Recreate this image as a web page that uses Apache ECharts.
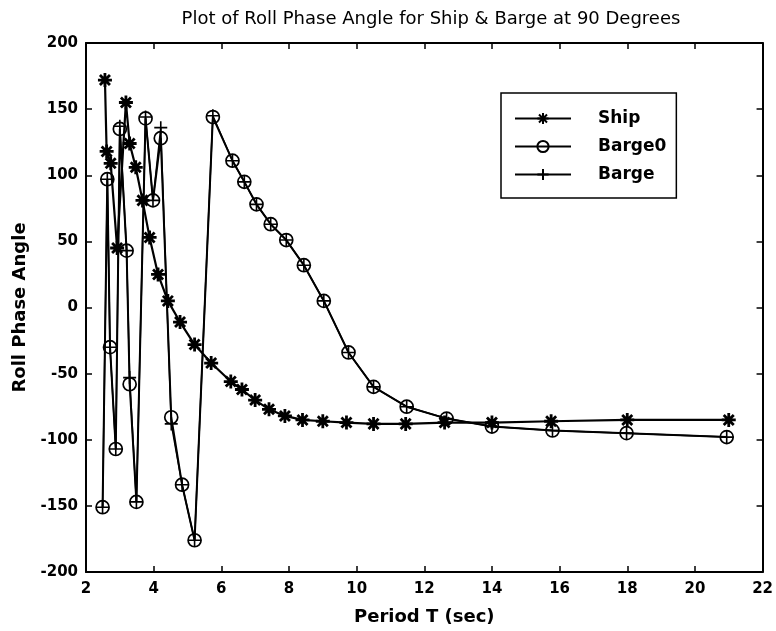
<!DOCTYPE html>
<html>
<head>
<meta charset="utf-8">
<script src="https://cdn.jsdelivr.net/npm/echarts@6/dist/echarts.min.js"></script>
<style>html,body{margin:0;padding:0;background:#fff;}#chart{width:776px;height:631px;}</style>
</head>
<body>
<div id="chart"></div>
<script>
// Ship series
const shipT = [2.56, 2.61, 2.73, 2.92, 3.18, 3.29, 3.47, 3.67, 3.88, 4.13, 4.42, 4.78, 5.21, 5.70, 6.28, 6.61, 7.0, 7.41, 7.88, 8.4, 9.0, 9.7, 10.5, 11.45, 12.6, 14.0, 15.75, 18.0, 21.0];
const shipPhase = [172, 118, 109, 45, 155, 124, 106, 81, 53, 25, 5, -11, -28, -42, -56, -62, -70, -77, -82, -85, -86, -87, -88, -88, -87, -87, -86, -85, -85];
// Barge0 series
const barge0T = [2.49, 2.63, 2.71, 2.88, 3.0, 3.2, 3.29, 3.49, 3.76, 3.98, 4.21, 4.52, 4.84, 5.21, 5.75, 6.33, 6.68, 7.04, 7.46, 7.92, 8.44, 9.03, 9.76, 10.5, 11.48, 12.66, 14.0, 15.79, 17.98, 20.94];
const barge0Phase = [-151, 97, -30, -107, 135, 43, -58, -147, 143, 81, 128, -83, -134, -176, 144, 111, 95, 78, 63, 51, 32, 5, -34, -60, -75, -84, -90, -93, -95, -98];
// Barge series
const bargeT = [2.49, 2.63, 2.71, 2.88, 3.0, 3.2, 3.29, 3.49, 3.76, 3.98, 4.21, 4.52, 4.84, 5.21, 5.75, 6.33, 6.68, 7.04, 7.46, 7.92, 8.44, 9.03, 9.76, 10.5, 11.48, 12.66, 14.0, 15.79, 17.98, 20.94];
const bargePhase = [-151, 97, -30, -107, 137, 43, -53, -147, 144, 81, 136, -88, -134, -176, 145, 111, 95, 78, 63, 51, 32, 5, -34, -60, -75, -84, -90, -93, -95, -98];
// Axis ticks
const xTicks = [2, 4, 6, 8, 10, 12, 14, 16, 18, 20, 22];
const yTicks = [-200, -150, -100, -50, 0, 50, 100, 150, 200];

const titleText = 'Plot of Roll Phase Angle for Ship & Barge at 90 Degrees';
const FONT = 'DejaVu Sans';

const starPath = 'path://M0,-6L0,6M-6,0L6,0M-4.3,-4.3L4.3,4.3M-4.3,4.3L4.3,-4.3';
const plusPath = 'path://M0,-6L0,6M-6,0L6,0';

function pairs(xs, ys) { return xs.map((x, i) => [x, ys[i]]); }

const chart = echarts.init(document.getElementById('chart'), null, {renderer: 'canvas'});
const axisCommon = {
  min: xTicks[0], max: xTicks[xTicks.length - 1], interval: 2,
};
const option = {
  animation: false,
  backgroundColor: '#fff',
  title: {
    text: titleText, left: 426, top: 5, textAlign: 'center',
    textStyle: {fontFamily: FONT, fontSize: 18, fontWeight: 'normal', color: '#000'}
  },
  grid: {left: 86, top: 43, width: 680, height: 534, containLabel: false},
  legend: {
    orient: 'vertical', left: 501, top: 93,
    backgroundColor: '#fff', borderColor: '#000', borderWidth: 1.5, borderRadius: 0,
    padding: [17, 10, 15, 13], itemGap: 11, itemWidth: 56, itemHeight: 14,
    textStyle: {fontFamily: FONT, fontSize: 17, fontWeight: 'bold', color: '#000', padding: [0, 0, 0, 22]},
    data: ['Ship', 'Barge0', 'Barge']
  },
  xAxis: [
    {type: 'value', position: 'bottom', ...axisCommon,
      name: 'Period T (sec)', nameLocation: 'middle', nameGap: 36,
      nameTextStyle: {fontFamily: FONT, fontSize: 18, fontWeight: 'bold', color: '#000'},
      axisLine: {onZero: false, lineStyle: {color: '#000', width: 2}},
      axisTick: {inside: true, length: 6, lineStyle: {color: '#000', width: 1.5}},
      axisLabel: {fontFamily: FONT, fontSize: 15, fontWeight: 'bold', color: '#000', margin: 10, formatter: v => xTicks.includes(v) ? String(v) : ''},
      splitLine: {show: false}},
    {type: 'value', position: 'top', ...axisCommon,
      axisLine: {onZero: false, lineStyle: {color: '#000', width: 2}},
      axisTick: {inside: true, length: 6, lineStyle: {color: '#000', width: 1.5}},
      axisLabel: {show: false}, splitLine: {show: false}}
  ],
  yAxis: [
    {type: 'value', position: 'left', min: yTicks[0], max: yTicks[yTicks.length - 1], interval: 50,
      name: 'Roll Phase Angle', nameLocation: 'middle', nameGap: 56, nameRotate: 90,
      nameTextStyle: {fontFamily: FONT, fontSize: 18, fontWeight: 'bold', color: '#000'},
      axisLine: {onZero: false, lineStyle: {color: '#000', width: 2}},
      axisTick: {inside: true, length: 6, lineStyle: {color: '#000', width: 1.5}},
      axisLabel: {fontFamily: FONT, fontSize: 15, fontWeight: 'bold', color: '#000', margin: 8, formatter: v => yTicks.includes(v) ? String(v) : ''},
      splitLine: {show: false}},
    {type: 'value', position: 'right', min: yTicks[0], max: yTicks[yTicks.length - 1], interval: 50,
      axisLine: {onZero: false, lineStyle: {color: '#000', width: 2}},
      axisTick: {inside: true, length: 6, lineStyle: {color: '#000', width: 1.5}},
      axisLabel: {show: false}, splitLine: {show: false}}
  ],
  series: [
    {name: 'Ship', type: 'line', data: pairs(shipT, shipPhase),
      symbol: starPath, symbolSize: 14,
      lineStyle: {color: '#000', width: 2.2},
      itemStyle: {color: 'none', borderColor: '#000', borderWidth: 2.8}, z: 2},
    {name: 'Barge0', type: 'line', data: pairs(barge0T, barge0Phase),
      symbol: 'circle', symbolSize: 13,
      lineStyle: {color: '#000', width: 2},
      itemStyle: {color: 'none', borderColor: '#000', borderWidth: 1.7}, z: 3},
    {name: 'Barge', type: 'line', data: pairs(bargeT, bargePhase),
      symbol: plusPath, symbolSize: 13,
      lineStyle: {color: '#000', width: 1.5},
      itemStyle: {color: 'none', borderColor: '#000', borderWidth: 1.6}, z: 4}
  ]
};
chart.setOption(option);
</script>
</body>
</html>
